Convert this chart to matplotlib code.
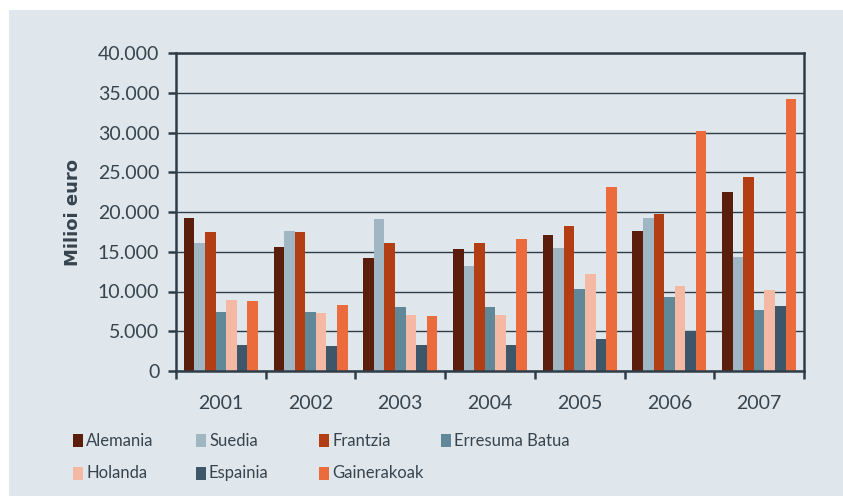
import matplotlib.pyplot as plt
from matplotlib.patches import Rectangle
import numpy as np

plt.rcParams['font.family'] = ['Lato', 'DejaVu Sans']

years = ['2001', '2002', '2003', '2004', '2005', '2006', '2007']
countries = ['Alemania', 'Suedia', 'Frantzia', 'Erresuma Batua',
             'Holanda', 'Espainia', 'Gainerakoak']

alemania = [19200, 15600, 14200, 15300, 17100, 17600, 22500]
suedia = [16100, 17600, 19100, 13200, 15500, 19300, 14300]
frantzia = [17500, 17500, 16100, 16100, 18300, 19800, 24400]
erresuma = [7400, 7400, 8000, 8000, 10300, 9300, 7700]
holanda = [8900, 7300, 7000, 7000, 12200, 10700, 10200]
espainia = [3300, 3100, 3300, 3300, 4000, 5000, 8200]
gainerakoak = [8800, 8300, 6900, 16600, 23100, 30200, 34200]

series = [alemania, suedia, frantzia, erresuma, holanda, espainia, gainerakoak]
colors = ['#5c1e0c', '#a0b7c3', '#b33e14', '#608898',
          '#f5b8a2', '#3d566a', '#eb6b3c']

bg = '#dfe7ed'
ink = '#2e3d48'
txt = '#37444e'

fig = plt.figure(figsize=(8.43, 4.96), dpi=100)
fig.patch.set_facecolor('white')
# light panel behind everything
panel = Rectangle((9 / 843, 0), 1, 1 - 10 / 496, transform=fig.transFigure,
                  facecolor=bg, edgecolor='none', zorder=-10)
fig.patches.append(panel)

ax = fig.add_axes([176 / 843, 1 - 371 / 496, 628 / 843, 318 / 496])
ax.set_facecolor(bg)

x = np.arange(len(years))
w = 0.118
for i, (vals, c) in enumerate(zip(series, colors)):
    ax.bar(x + (i - 3) * w, vals, width=w, color=c, zorder=3, linewidth=0)

ax.set_xlim(-0.5, len(years) - 0.5)
ax.set_ylim(0, 40000)
ax.set_yticks(np.arange(0, 40001, 5000))
ax.set_yticklabels(['0'] + [f'{v // 1000}.000' for v in range(5000, 40001, 5000)])
ax.set_xticks(x)
ax.set_xticklabels(years)
ax.set_xticks(np.arange(-0.5, len(years), 1), minor=True)

ax.grid(axis='y', color=ink, linewidth=1.0, zorder=1)
ax.set_axisbelow(True)
for s in ax.spines.values():
    s.set_color(ink)
    s.set_linewidth(1.8)
    s.set_zorder(4)

ax.tick_params(axis='y', length=6, width=1.8, color=ink, labelcolor=txt,
               labelsize=14, pad=6)
ax.tick_params(axis='x', which='major', length=0, labelcolor=txt,
               labelsize=14, pad=17)
ax.tick_params(axis='x', which='minor', length=6, width=1.8, color=ink)

ax.set_ylabel('Milioi euro', fontsize=13, fontweight='bold', color=txt,
              family='DejaVu Sans')
ax.yaxis.set_label_coords(-0.150, 0.5)

# legend, laid out on a fixed grid like the original
col_x = [73, 196, 319, 441]
row_y = [440.5, 473]
for i, (name, c) in enumerate(zip(countries, colors)):
    cx = col_x[i % 4]
    cy = row_y[i // 4]
    fig.patches.append(Rectangle((cx / 843, 1 - (cy + 6.5) / 496), 10 / 843, 13 / 496,
                                 transform=fig.transFigure, facecolor=c,
                                 edgecolor='none', zorder=2))
    fig.text((cx + 13) / 843, 1 - cy / 496, name, fontsize=12, color=txt,
             va='center', ha='left')

fig.savefig('out.png', dpi=100, facecolor=fig.get_facecolor())
